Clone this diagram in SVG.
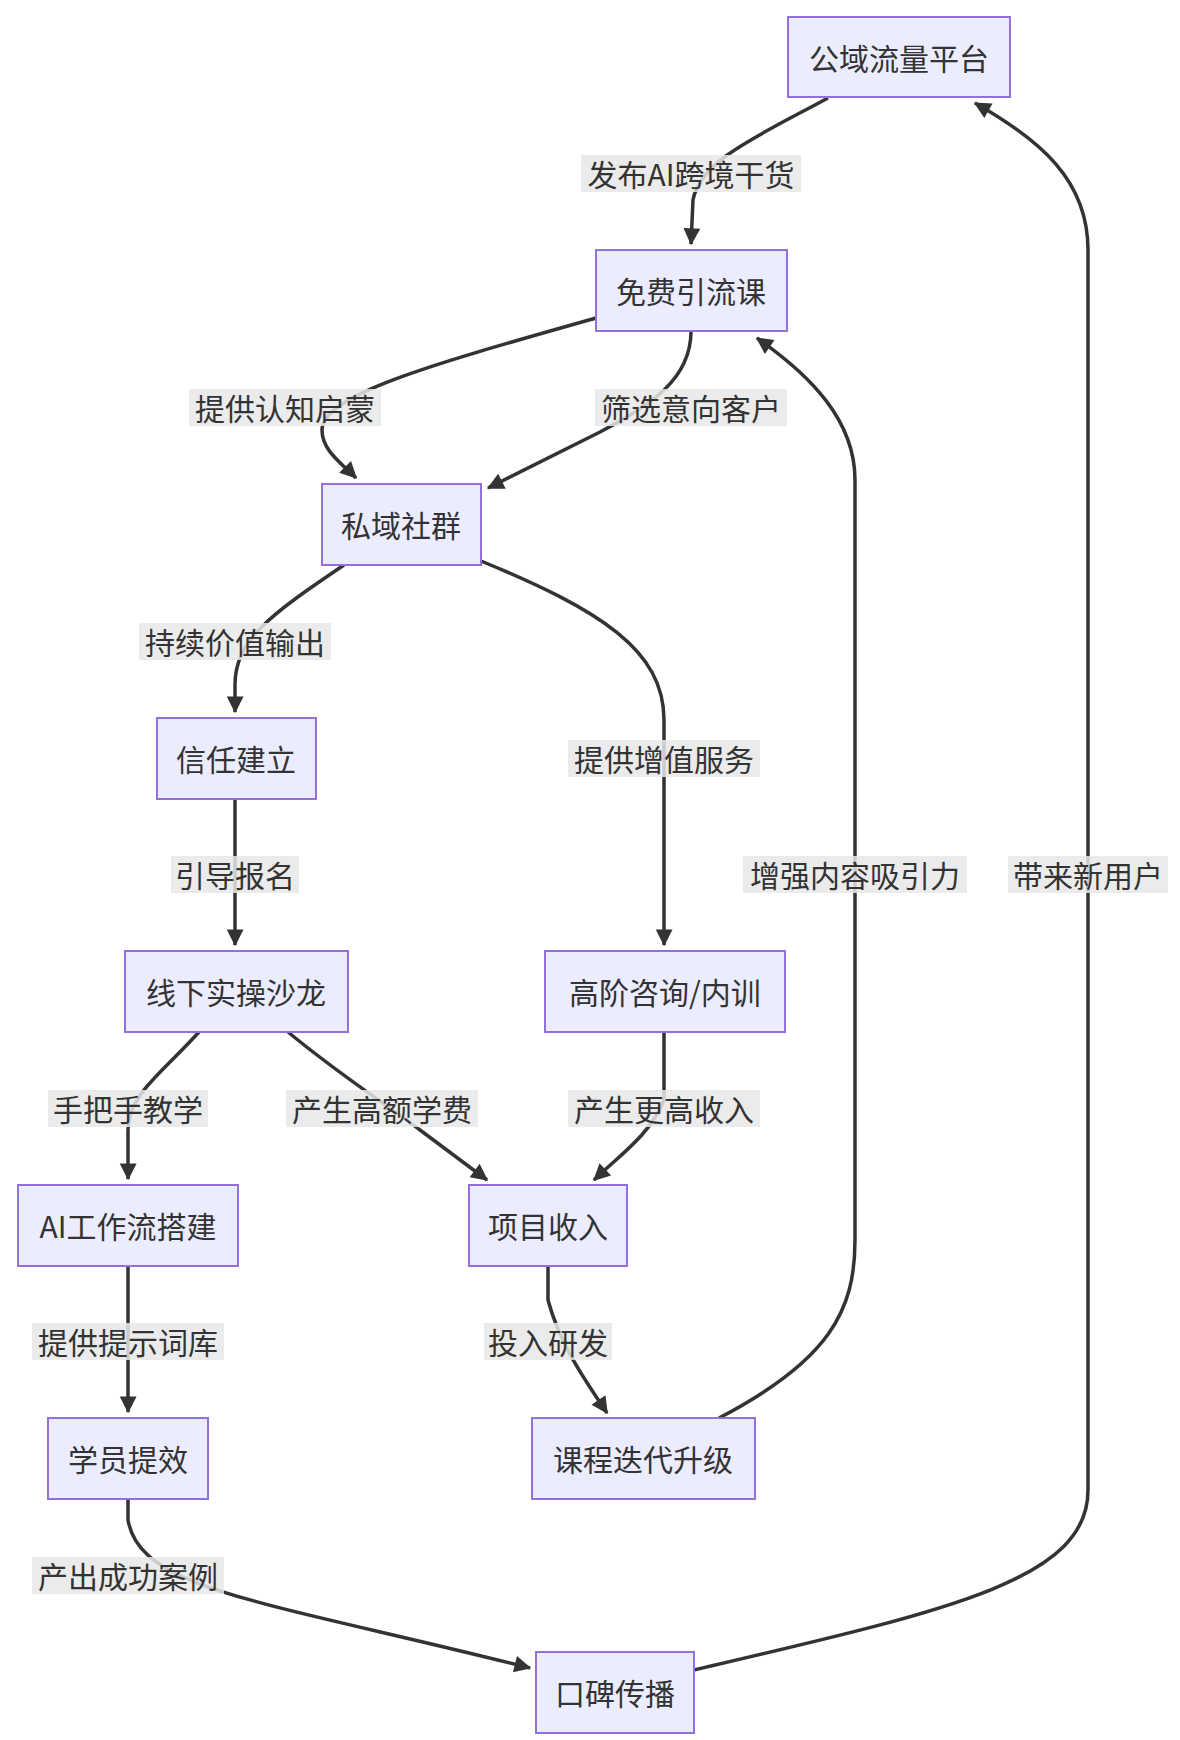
<svg xmlns="http://www.w3.org/2000/svg" width="1180" height="1740" viewBox="0 0 1180 1740">
<defs>
<style>
.n rect{fill:#ECECFF;stroke:#9370DB;stroke-width:2}
.n text,.l text{font-family:"Noto Sans CJK SC","Liberation Sans",sans-serif;font-size:30px;fill:#333;text-anchor:middle;dominant-baseline:central}
.e path{fill:none;stroke:#333;stroke-width:3.5}
.l rect{fill:#e8e8e8;opacity:0.85}
</style>
<marker id="a" viewBox="0 0 10 10" refX="9" refY="5" markerWidth="7" markerHeight="7" markerUnits="userSpaceOnUse" orient="auto" overflow="visible">
<path d="M0,0 L10,5 L0,10 z" fill="#333" transform="scale(2.4) translate(-5.5,-3)"/>
</marker>
</defs>
<rect width="1180" height="1740" fill="#fff"/>
<g class="e">
<path d="M828,98 C760,135 700,160 693,200 L691,244" marker-end="url(#a)"/>
<path d="M596,318 C430,365 322,395 322,430 C322,450 340,462 356,478" marker-end="url(#a)"/>
<path d="M691,331 C691,380 650,405 600,432 L488,488" marker-end="url(#a)"/>
<path d="M344,565 C270,615 235,640 235,685 L235,712" marker-end="url(#a)"/>
<path d="M481,561 C600,610 664,650 664,720 L664,945" marker-end="url(#a)"/>
<path d="M235,799 L235,945" marker-end="url(#a)"/>
<path d="M199,1032 C160,1075 128,1095 128,1130 L128,1179" marker-end="url(#a)"/>
<path d="M288,1032 C340,1075 380,1100 420,1130 L487,1180" marker-end="url(#a)"/>
<path d="M664,1032 L664,1100 C650,1135 620,1155 594,1180" marker-end="url(#a)"/>
<path d="M128,1266 L128,1412" marker-end="url(#a)"/>
<path d="M548,1266 L548,1300 C560,1345 585,1380 607,1413" marker-end="url(#a)"/>
<path d="M128,1499 L128,1520 C140,1590 260,1600 530,1668" marker-end="url(#a)"/>
<path d="M719,1418 C830,1360 855,1310 855,1240 L855,480 C855,420 810,375 757,338" marker-end="url(#a)"/>
<path d="M694,1670 C950,1610 1088,1580 1088,1490 L1088,250 C1088,180 1040,140 975,103" marker-end="url(#a)"/>
</g>
<g class="l">
<g><rect x="581" y="155" width="220" height="37"/><text x="691" y="173">发布AI跨境干货</text></g>
<g><rect x="189" y="389" width="192" height="37"/><text x="285" y="407">提供认知启蒙</text></g>
<g><rect x="595" y="389" width="192" height="37"/><text x="691" y="407">筛选意向客户</text></g>
<g><rect x="139" y="623" width="192" height="37"/><text x="235" y="641">持续价值输出</text></g>
<g><rect x="568" y="740" width="192" height="37"/><text x="664" y="758">提供增值服务</text></g>
<g><rect x="171" y="856" width="128" height="37"/><text x="235" y="874">引导报名</text></g>
<g><rect x="48" y="1090" width="160" height="37"/><text x="128" y="1108">手把手教学</text></g>
<g><rect x="286" y="1090" width="192" height="37"/><text x="382" y="1108">产生高额学费</text></g>
<g><rect x="568" y="1090" width="192" height="37"/><text x="664" y="1108">产生更高收入</text></g>
<g><rect x="32" y="1323" width="192" height="37"/><text x="128" y="1341">提供提示词库</text></g>
<g><rect x="484" y="1323" width="128" height="37"/><text x="548" y="1341">投入研发</text></g>
<g><rect x="32" y="1557" width="192" height="37"/><text x="128" y="1575">产出成功案例</text></g>
<g><rect x="743" y="856" width="224" height="37"/><text x="855" y="874">增强内容吸引力</text></g>
<g><rect x="1008" y="856" width="160" height="37"/><text x="1088" y="874">带来新用户</text></g>
</g>
<g id="n1" class="n"><rect x="788" y="17" width="222" height="80"/><text x="899" y="57">公域流量平台</text></g>
<g id="n2" class="n"><rect x="596" y="250" width="191" height="81"/><text x="691" y="290">免费引流课</text></g>
<g id="n3" class="n"><rect x="322" y="484" width="159" height="81"/><text x="401" y="524">私域社群</text></g>
<g id="n4" class="n"><rect x="157" y="718" width="159" height="81"/><text x="236" y="758">信任建立</text></g>
<g id="n5" class="n"><rect x="125" y="951" width="223" height="81"/><text x="236" y="991">线下实操沙龙</text></g>
<g id="n6" class="n"><rect x="545" y="951" width="240" height="81"/><text x="665" y="991">高阶咨询/内训</text></g>
<g id="n7" class="n"><rect x="18" y="1185" width="220" height="81"/><text x="128" y="1225">AI工作流搭建</text></g>
<g id="n8" class="n"><rect x="469" y="1185" width="158" height="81"/><text x="548" y="1225">项目收入</text></g>
<g id="n9" class="n"><rect x="48" y="1418" width="160" height="81"/><text x="128" y="1458">学员提效</text></g>
<g id="n10" class="n"><rect x="532" y="1418" width="223" height="81"/><text x="643" y="1458">课程迭代升级</text></g>
<g id="n11" class="n"><rect x="536" y="1652" width="158" height="81"/><text x="615" y="1692">口碑传播</text></g>
</svg>
